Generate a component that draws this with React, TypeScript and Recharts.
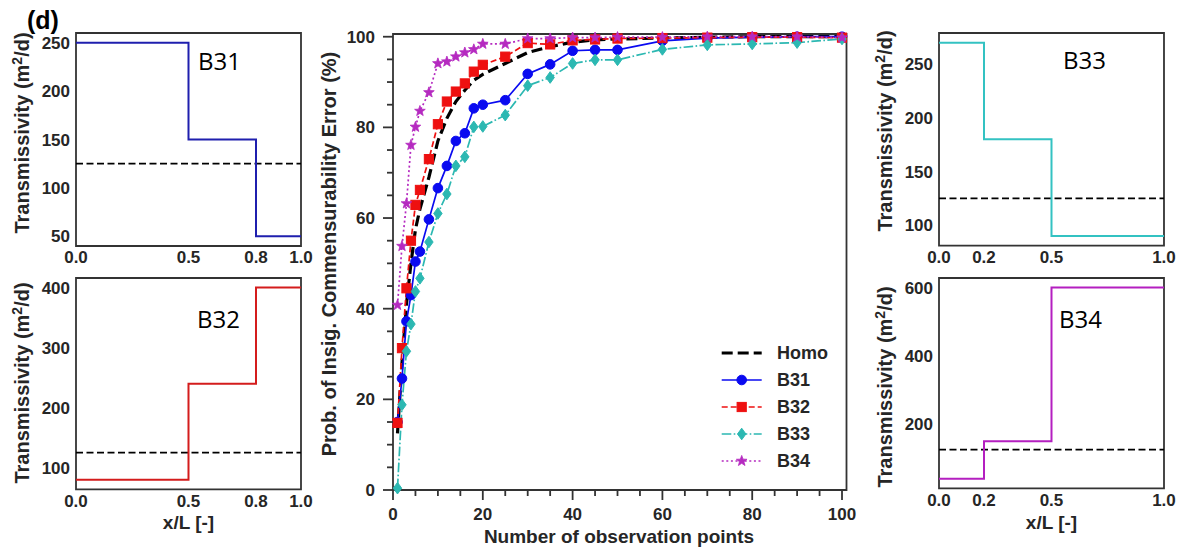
import React from 'react';
import { LineChart, Line, XAxis, YAxis, ReferenceArea, Legend } from 'recharts';

// ---------- main chart data ----------
const NOBS = [1, 2, 3, 4, 5, 6, 8, 10, 12, 14, 16, 18, 20, 25, 30, 35, 40, 45, 50, 60, 70, 80, 90, 100];
const HOMO = [12.5, 28, 41, 50, 57.5, 62, 69, 77, 82, 85.7, 88.2, 90.4, 91.7, 94.1, 96.5, 97.8, 98.8, 99.3, 99.5, 99.7, 99.9, 100, 100, 100];
const B31 = [15, 24.6, 37.2, 43, 50.4, 52.6, 59.7, 66.6, 71.5, 77, 78.7, 84.2, 85, 86, 91.8, 93.9, 96.9, 97.1, 97.1, 99.1, 99.7, 99.9, 100, 100];
const B32 = [14.8, 31.3, 44.5, 55, 62.9, 66.2, 73, 80.7, 85.7, 87.9, 89.7, 92.3, 93.8, 95.6, 98.6, 98.3, 99.2, 99.4, 99.6, 99.7, 99.8, 99.9, 99.9, 99.8];
const B33 = [0.4, 18.8, 30.6, 36.6, 43.8, 46.7, 54.7, 61, 65.3, 71.5, 73.5, 80.1, 80.2, 82.7, 89.2, 91, 94.1, 94.9, 94.9, 97.2, 98.2, 98.4, 98.7, 99.5];
const B34 = [40.8, 53.8, 63.2, 76.1, 80.1, 83.6, 87.7, 94.1, 94.5, 95.6, 96.5, 97.2, 98.4, 98.4, 99.6, 99.6, 99.8, 99.8, 99.9, 99.9, 100, 100, 100, 99.8];

const MAIN_TICKS = [0, 5, 10, 15, 20, 25, 30, 35, 40, 45, 50, 55, 60, 65, 70, 75, 80, 85, 90, 95, 100];
const MAIN_MAJOR = [0, 20, 40, 60, 80, 100];

// ---------- side panel data ----------
const HOMO_T = 125;
const B31_X = [0, 0.5, 0.8, 1.0];
const B31_T = [250, 150, 50, 50];
const B32_X = [0, 0.5, 0.8, 1.0];
const B32_T = [80, 240, 400, 400];
const B33_X = [0, 0.2, 0.5, 1.0];
const B33_T = [270, 180, 90, 90];
const B34_X = [0, 0.2, 0.5, 1.0];
const B34_T = [40, 150, 600, 600];

const B31_YTICKS = [50, 100, 150, 200, 250];
const B32_YTICKS = [100, 200, 300, 400];
const B33_YTICKS = [100, 150, 200, 250];
const B34_YTICKS = [200, 400, 600];

const mainData = NOBS.map((n, i) => ({
  x: n,
  homo: HOMO[i],
  b31: B31[i],
  b32: B32[i],
  b33: B33[i],
  b34: B34[i],
}));

const SERIES = [
  { key: 'homo', name: 'Homo', color: '#000000', width: 3.2, dash: '11 5', shape: '' },
  { key: 'b31', name: 'B31', color: '#0a0af0', width: 1.7, dash: undefined, shape: 'circle' },
  { key: 'b32', name: 'B32', color: '#ee1010', width: 1.7, dash: '6 3', shape: 'square' },
  { key: 'b33', name: 'B33', color: '#2cb8b2', width: 1.7, dash: '9.6 2.4 1.6 2.4', shape: 'diamond' },
  { key: 'b34', name: 'B34', color: '#b52ac0', width: 1.7, dash: '2 2.6', shape: 'star' },
];

const TXT = '#262626';
const FRAME = '#333333';
const ARIAL = "'Liberation Sans', Arial, sans-serif";

function Marker({ shape, cx, cy, color }: any) {
  if (cx == null || cy == null || !shape) return null;
  if (shape === 'circle') return <circle cx={cx} cy={cy} r={4.8} fill={color} stroke={color} strokeWidth={1} />;
  if (shape === 'square')
    return <rect x={cx - 4.6} y={cy - 4.6} width={9.2} height={9.2} fill={color} stroke={color} strokeWidth={1} />;
  if (shape === 'diamond')
    return (
      <polygon
        points={`${cx},${cy - 5.8} ${cx + 4.2},${cy} ${cx},${cy + 5.8} ${cx - 4.2},${cy}`}
        fill={color}
        stroke={color}
        strokeWidth={1}
      />
    );
  if (shape === 'star') {
    const pts: string[] = [];
    for (let k = 0; k < 10; k++) {
      const a = ((-90 + k * 36) * Math.PI) / 180;
      const r = k % 2 === 0 ? 5.6 : 2.3;
      pts.push(`${cx + r * Math.cos(a)},${cy + r * Math.sin(a)}`);
    }
    return <polygon points={pts.join(' ')} fill={color} stroke={color} strokeWidth={0.8} />;
  }
  return null;
}

const MainXTick = (props: any) => {
  const { x, y, payload } = props;
  const major = MAIN_MAJOR.includes(payload.value);
  return (
    <g>
      <line x1={x} x2={x} y1={y} y2={y + (major ? 10 : 6)} stroke={FRAME} strokeWidth={1.8} />
      {major && (
        <text x={x} y={y + 30} textAnchor="middle" fill={TXT} fontSize={17} fontWeight="bold" fontFamily={ARIAL}>
          {payload.value}
        </text>
      )}
    </g>
  );
};

const MainYTick = (props: any) => {
  const { x, y, payload } = props;
  const major = MAIN_MAJOR.includes(payload.value);
  return (
    <g>
      <line x1={x} x2={x - (major ? 10 : 6)} y1={y} y2={y} stroke={FRAME} strokeWidth={1.8} />
      {major && (
        <text x={x - 18} y={y} dy="0.36em" textAnchor="end" fill={TXT} fontSize={17} fontWeight="bold" fontFamily={ARIAL}>
          {payload.value}
        </text>
      )}
    </g>
  );
};

const renderLegend = () => {
  const rowY = (i: number) => 15 + i * 27;
  return (
    <svg width={150} height={140} style={{ display: 'block' }}>
      {SERIES.map((s, i) => (
        <g key={s.key}>
          <line
            x1={6.7}
            x2={46.7}
            y1={rowY(i)}
            y2={rowY(i)}
            stroke={s.color}
            strokeWidth={s.width}
            strokeDasharray={s.dash}
          />
          <Marker shape={s.shape} cx={26.7} cy={rowY(i)} color={s.color} />
          <text x={62} y={rowY(i)} dy="0.36em" fill={TXT} fontSize={18} fontWeight="bold" fontFamily={ARIAL}>
            {s.name}
          </text>
        </g>
      ))}
    </svg>
  );
};

function MainChart() {
  return (
    <div style={{ position: 'absolute', left: 300, top: 0 }}>
      <LineChart width={570} height={548} data={mainData} margin={{ top: 34, right: 23.5, left: 0, bottom: 0 }}>
        <XAxis
          dataKey="x"
          type="number"
          domain={[0, 101]}
          ticks={MAIN_TICKS}
          interval={0}
          tickSize={0}
          tickMargin={0}
          tickLine={false}
          axisLine={false}
          height={58}
          tick={(p: any) => <MainXTick {...p} />}
        />
        <YAxis
          type="number"
          domain={[0, 100.6]}
          ticks={MAIN_TICKS}
          interval={0}
          tickSize={0}
          tickMargin={0}
          tickLine={false}
          axisLine={false}
          width={93}
          tick={(p: any) => <MainYTick {...p} />}
        />
        <ReferenceArea x1={0} x2={101} y1={0} y2={100.6} fill="none" stroke={FRAME} strokeWidth={1.8} />
        {SERIES.map((s) => (
          <Line
            key={s.key}
            dataKey={s.key}
            name={s.name}
            type="linear"
            stroke={s.color}
            strokeWidth={s.width}
            strokeDasharray={s.dash}
            isAnimationActive={false}
            activeDot={false}
            dot={
              s.shape
                ? (p: any) => <Marker key={`${s.key}-${p.index}`} shape={s.shape} cx={p.cx} cy={p.cy} color={s.color} />
                : false
            }
          />
        ))}
        <Legend
          layout="vertical"
          align="center"
          verticalAlign="middle"
          content={renderLegend}
          wrapperStyle={{ left: 415, top: 338, width: 150, height: 140 }}
        />
      </LineChart>
    </div>
  );
}

function SidePanel({ plotLeft, plotTop, plotW, plotH, xs, ts, color, yDomain, yTicks, xMargin }: any) {
  const data = xs.map((x: number, i: number) => ({ x, t: ts[i], h: HOMO_T }));
  const tickStyle = { fill: TXT, fontSize: 17, fontWeight: 'bold', fontFamily: ARIAL };
  return (
    <div style={{ position: 'absolute', left: plotLeft - 76, top: plotTop - 33 }}>
      <LineChart
        width={plotW + 76 + 15}
        height={plotH + 33 + 30}
        data={data}
        margin={{ top: 33, right: 15, left: 0, bottom: 0 }}
      >
        <XAxis
          dataKey="x"
          type="number"
          domain={[0, 1]}
          ticks={xs}
          interval={0}
          tickFormatter={(v: number) => v.toFixed(1)}
          tickLine={false}
          axisLine={false}
          tickSize={0}
          tickMargin={xMargin}
          height={30}
          tick={tickStyle}
        />
        <YAxis
          type="number"
          domain={yDomain}
          ticks={yTicks}
          interval={0}
          tickLine={false}
          axisLine={false}
          tickSize={0}
          tickMargin={6}
          width={76}
          tick={tickStyle}
        />
        <ReferenceArea x1={0} x2={1} y1={yDomain[0]} y2={yDomain[1]} fill="none" stroke={FRAME} strokeWidth={1.8} />
        <Line
          dataKey="h"
          type="linear"
          stroke="#000"
          strokeWidth={1.8}
          strokeDasharray="7 3.5"
          dot={false}
          activeDot={false}
          isAnimationActive={false}
        />
        <Line
          dataKey="t"
          type="stepAfter"
          stroke={color}
          strokeWidth={2}
          dot={false}
          activeDot={false}
          isAnimationActive={false}
        />
      </LineChart>
    </div>
  );
}

function TransLabel({ x, y }: any) {
  return (
    <text
      x={x}
      y={y}
      transform={`rotate(-90, ${x}, ${y})`}
      textAnchor="middle"
      fill={TXT}
      fontSize={20}
      fontWeight="bold"
      fontFamily={ARIAL}
    >
      Transmissivity (m
      <tspan dy={-7} fontSize={14}>
        2
      </tspan>
      <tspan dy={7}>/d)</tspan>
    </text>
  );
}

export default function App() {
  const bFont = "'Open Sans', 'Noto Sans', sans-serif";
  return (
    <div
      style={{
        position: 'absolute',
        left: 0,
        top: 0,
        width: 1181,
        height: 548,
        background: '#ffffff',
        overflow: 'hidden',
      }}
    >
      <SidePanel plotLeft={76} plotTop={33} plotW={225} plotH={213} xs={B31_X} ts={B31_T} color="#1f1fae" yDomain={[40, 260]} yTicks={B31_YTICKS} xMargin={5} />
      <SidePanel plotLeft={76} plotTop={277.7} plotW={225} plotH={211.3} xs={B32_X} ts={B32_T} color="#d41c1c" yDomain={[64, 416]} yTicks={B32_YTICKS} xMargin={6} />
      <SidePanel plotLeft={939} plotTop={33.3} plotW={225} plotH={212.7} xs={B33_X} ts={B33_T} color="#33c2c2" yDomain={[81, 279]} yTicks={B33_YTICKS} xMargin={5} />
      <SidePanel plotLeft={939} plotTop={277.7} plotW={225} plotH={210.3} xs={B34_X} ts={B34_T} color="#b41fc0" yDomain={[12, 628]} yTicks={B34_YTICKS} xMargin={6} />
      <MainChart />
      <svg
        width={1181}
        height={548}
        style={{ position: 'absolute', left: 0, top: 0, pointerEvents: 'none' }}
      >
        <text x={27} y={29} fill="#000" fontSize={25} fontWeight="bold" fontFamily={ARIAL}>
          (d)
        </text>
        <TransLabel x={29} y={133} />
        <TransLabel x={29} y={383} />
        <TransLabel x={892} y={131} />
        <TransLabel x={892} y={387} />
        <text x={188.5} y={529} textAnchor="middle" fill={TXT} fontSize={19} fontWeight="bold" fontFamily={ARIAL}>
          x/L [-]
        </text>
        <text x={1051.5} y={529} textAnchor="middle" fill={TXT} fontSize={19} fontWeight="bold" fontFamily={ARIAL}>
          x/L [-]
        </text>
        <text x={619} y={543} textAnchor="middle" fill={TXT} fontSize={19} fontWeight="bold" fontFamily={ARIAL}>
          Number of observation points
        </text>
        <text
          x={336}
          y={254}
          transform="rotate(-90, 336, 254)"
          textAnchor="middle"
          fill={TXT}
          fontSize={20}
          fontWeight="bold"
          fontFamily={ARIAL}
        >
          Prob. of Insig. Commensurability Error (%)
        </text>
        <text x={198} y={70} fill="#000" fontSize={24} fontFamily={bFont}>B31</text>
        <text x={197} y={328} fill="#000" fontSize={24} fontFamily={bFont}>B32</text>
        <text x={1063} y={69} fill="#000" fontSize={24} fontFamily={bFont}>B33</text>
        <text x={1059} y={328} fill="#000" fontSize={24} fontFamily={bFont}>B34</text>
      </svg>
    </div>
  );
}
